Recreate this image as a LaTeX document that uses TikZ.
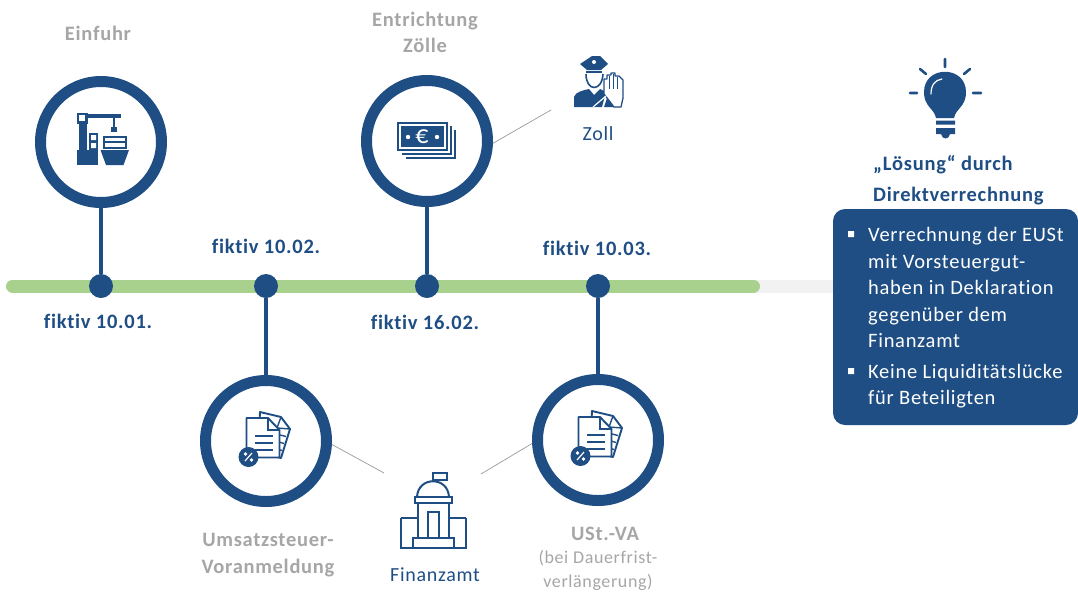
\documentclass[tikz,border=0pt]{standalone}
\usepackage{fontspec}
\setmainfont[LetterSpace=3.5,Ligatures=NoCommon]{Carlito}
\definecolor{navy}{HTML}{1F4E84}
\definecolor{barblue}{HTML}{1F4E84}
\definecolor{grün}{HTML}{A9D18E}
\definecolor{greytext}{HTML}{A6A6A6}
\tikzset{
    ring/.style={circle, draw=navy, line width=11pt, fill=white, minimum size=121pt, inner sep=0pt},
    dot/.style={circle, fill=navy, minimum size=24pt, inner sep=0pt},
    stem/.style={draw=navy, line width=4.5pt},
    thin link/.style={draw=gray!80, line width=0.7pt},
    label/.style={text height=17pt, text depth=4pt},
    date/.style={label, text=navy, font=\fontsize{20.5}{23}\selectfont\bfseries},
    grey head/.style={label, text=greytext, font=\fontsize{20.5}{23}\selectfont\bfseries},
    grey sub/.style={label, text=greytext, font=\fontsize{18}{23}\selectfont},
    plain blue/.style={label, text=navy, font=\fontsize{20}{23}\selectfont},
    pics/docs/.style={code={
        \draw[navy, line width=1.9pt, fill=white, line join=round] (-6,-29) -- (15,-24) -- (24,-12) -- (15,17) -- (-8,11) -- cycle;
        \draw[navy, line width=1.4pt] (15,-24) -- (11,-13) -- (24,-12);
        \draw[navy, line width=1.4pt] (14,-6) -- (20,-4.5) (13,1) -- (18,2.5) (11,8) -- (16,9.5);
        \draw[navy, line width=1.9pt, fill=white, line join=round] (-19.5,-23) -- (2,-23) -- (13.5,-11) -- (13.5,16.5) -- (-19.5,16.5) -- cycle;
        \draw[navy, line width=1.4pt] (2,-23) -- (2,-11) -- (13.5,-11);
        \draw[navy, line width=1.8pt] (-11,-5) -- (7,-5) (-11,2) -- (7,2) (-11,9) -- (7,9);
        \fill[navy] (-17.5,16) circle[radius=10pt];
        \draw[white, line width=1.2pt] (-21,20) -- (-14,12);
        \fill[white] (-20.5,13) circle[radius=1.8pt] (-14.5,19) circle[radius=1.8pt];
    }}
}
\begin{document}
\begin{tikzpicture}[x=1pt, y=-1pt]
    \useasboundingbox (0,0) rectangle (1078,592);

    \coordinate (linestart) at (12.5,286);
    \coordinate (lineend) at (753.5,286);
    \coordinate (fadeend) at (840,286);
    \draw[line width=13pt, color=black!5] (lineend) -- (fadeend);
    \draw[line width=13pt, color=grün, line cap=round] (linestart) -- (lineend);

    \node[dot] (dota) at (101,286) {};
    \node[dot] (dotb) at (266,286) {};
    \node[dot] (dotc) at (427,286) {};
    \node[dot] (dotd) at (598,286) {};

    \node[ring] (einfuhr) at (101,142) {};
    \node[ring] (zoelle) at (427,141) {};
    \node[ring] (voranm) at (266,441) {};
    \node[ring] (ustva) at (598,440) {};

    \draw[stem] (dota) -- (einfuhr);
    \draw[stem] (dotc) -- (zoelle);
    \draw[stem] (dotb) -- (voranm);
    \draw[stem] (dotd) -- (ustva);

    \coordinate (zollend) at (551,110);
    \coordinate (amtleft) at (384,473);
    \coordinate (amtright) at (481,474);
    \draw[thin link] (zoelle.-2) -- (zollend);
    \draw[thin link] (voranm.-3) -- (amtleft);
    \draw[thin link] (ustva.183) -- (amtright);

    % kran und schiff
    \fill[navy] (76.5,112.5) rectangle (87.5,123.5);
    \fill[white] (79,115) rectangle (85,121);
    \fill[navy] (87,114) rectangle (121,117.5);
    \fill[navy] (79,123) rectangle (87,150);
    \fill[navy] (77,150) rectangle (98,165);
    \fill[navy] (89,133) rectangle (98,150);
    \fill[white] (91,135) rectangle (96,140) (91,143) rectangle (96,148);
    \draw[navy, line width=1.5pt] (114,117) -- (114,127);
    \fill[navy] (111,127) rectangle (117,132);
    \draw[navy, line width=1.8pt] (104,137) rectangle (126,148);
    \draw[navy, line width=1.8pt] (104,142) -- (126,142);
    \fill[navy] (100.5,150) -- (129,150) -- (123.5,165) -- (106,165) -- cycle;

    % geldscheine
    \draw[navy, line width=1.4pt] (455,130) -- (455,158) -- (406,158);
    \draw[navy, line width=1.4pt] (451,126) -- (451,154) -- (402,154);
    \fill[navy] (397,122) rectangle (448,151);
    \fill[white] (399,124) rectangle (446,149);
    \fill[navy] (401,126) rectangle (444,147);
    \fill[white] (408,137) circle[radius=2.2pt] (437,137) circle[radius=2.2pt];
    \node[text=white, font=\fontsize{26}{26}\selectfont] (euro) at (422,137) {€};

    % polizist
    \fill[navy] (580,64) -- (592,56) -- (600,56) -- (608,64) -- (601,70) -- (587,70) -- cycle;
    \fill[navy] (586,71) rectangle (602,73);
    \fill[white] (594,62) circle[radius=2pt];
    \draw[navy, line width=1.6pt] (586,74) .. controls (586,92) and (602,92) .. (603,74);
    \fill[navy] (574,107) -- (574,97) .. controls (575,92) and (584,90) .. (589,89) -- (594,95) -- (600,89) -- (606,92) -- (602,107) -- cycle;
    \fill[navy] (604,107) -- (608,95) -- (610,98) -- (620,107) -- cycle;
    \draw[navy, line width=1.3pt, fill=white, line join=round] (604,94) -- (604,79) -- (607,79) -- (607,75) -- (611,75) -- (611,73) -- (615,73) -- (615,76) -- (619,76) -- (623,80) -- (623,98) -- (621,107) -- (614,107) -- cycle;
    \draw[navy, line width=0.9pt] (609,76) -- (609,89) (613,74) -- (613,89) (617,77) -- (617,89);
    \draw[white, line width=1.2pt] (593,107) -- (606,96);

    % gebaeude
    \draw[navy, line width=2pt] (433,487) -- (433,473) -- (447,473) -- (447,480) -- (433,480);
    \draw[navy, line width=2pt, fill=white] (417,497) .. controls (418,476) and (448,476) .. (449,497);
    \draw[navy, line width=2pt] (415,497) rectangle (452,502.5);
    \draw[navy, line width=2pt] (418,502.5) -- (418,538) (449,502.5) -- (449,538);
    \draw[navy, line width=2pt] (427.5,538) -- (427.5,512) -- (439,512) -- (439,538);
    \draw[navy, line width=2pt] (401,517.5) -- (418,517.5) (449,517.5) -- (466,517.5);
    \draw[navy, line width=2pt] (401,517.5) -- (401,548) -- (466,548) -- (466,517.5);
    \draw[navy, line width=2pt] (413,548) -- (413,538) -- (454,538) -- (454,548);

    \pic at (266,441) {docs};
    \pic at (598,440) {docs};

    % gluehbirne
    \fill[navy] (936,118) .. controls (934,108) and (924,107) .. (924,92) .. controls (924,65) and (966,65) .. (966,92) .. controls (966,107) and (956,108) .. (954,118) -- cycle;
    \draw[white, line width=1.2pt, line cap=round] (931,94) .. controls (931,85) and (935,80) .. (942,79);
    \fill[navy] (936,120.5) rectangle (955,124.5) (936,128) rectangle (955,134);
    \fill[navy] (941,134) -- (950,134) .. controls (949,140) and (942,140) .. (941,134) -- cycle;
    \draw[navy, line width=2.6pt, line cap=round] (945,59) -- (945,67) (920,69) -- (926,74) (970,69) -- (964,74) (910,93) -- (917,93) (973,93) -- (981,93);

    % beschriftungen
    \node[grey head] (einfuhrtext) at (98,34) {Einfuhr};
    \node[grey head] (zoelletexta) at (425,20) {Entrichtung};
    \node[grey head] (zoelletextb) at (425,46) {Zölle};
    \node[plain blue] (zolltext) at (598,134) {Zoll};
    \node[date] (datea) at (98,322) {fiktiv 10.01.};
    \node[date] (dateb) at (266,247) {fiktiv 10.02.};
    \node[date] (datec) at (425,323) {fiktiv 16.02.};
    \node[date] (dated) at (597,249) {fiktiv 10.03.};
    \node[grey head] (vatexta) at (268,540) {Umsatzsteuer-};
    \node[grey head] (vatextb) at (268,567) {Voranmeldung};
    \node[plain blue] (amttext) at (435,575) {Finanzamt};
    \node[grey head] (usttexta) at (605,534) {USt.-VA};
    \node[grey sub] (usttextb) at (598,557) {(bei Dauerfrist-};
    \node[grey sub] (usttextc) at (598,581) {verlängerung)};

    \node[date, anchor=west, inner sep=0pt] (loesunga) at (873,164) {„Lösung“ durch};
    \node[date, anchor=west, inner sep=0pt] (loesungb) at (873,195) {Direktverrechnung};

    \fill[barblue, rounded corners=12pt] (833,209) rectangle (1078,425);
    \foreach \txt/\ypos in {Verrechnung der EUSt/235, mit Vorsteuergut-/262, haben in Deklaration/288, gegenüber dem/315, Finanzamt/341, Keine Liquiditätslücke/372, für Beteiligten/398}{
        \node[label, text=white, anchor=west, inner sep=0pt, font=\fontsize{20.5}{23}\selectfont] (boxline\ypos) at (868,\ypos) {\txt};
    }
    \fill[white] (848,231) rectangle (854,237) (848,368) rectangle (854,374);
\end{tikzpicture}
\end{document}
